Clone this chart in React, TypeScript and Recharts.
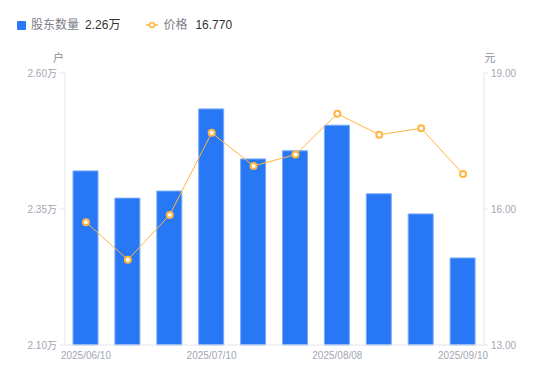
import { Bar, ComposedChart, Line, XAxis, YAxis } from 'recharts'

const dates = [
    '2025/06/10',
    '2025/06/20',
    '2025/06/30',
    '2025/07/10',
    '2025/07/18',
    '2025/07/31',
    '2025/08/08',
    '2025/08/20',
    '2025/08/31',
    '2025/09/10',
]
// 股东数量, 万户
const holders = [2.42, 2.37, 2.383, 2.534, 2.442, 2.457, 2.504, 2.378, 2.341, 2.26]
// 价格, 元
const prices = [15.71, 14.88, 15.87, 17.68, 16.95, 17.2, 18.1, 17.64, 17.78, 16.77]

const holderTicks = [2.1, 2.35, 2.6]
const priceTicks = [13, 16, 19]

const data = dates.map((date, i) => ({ date, holders: holders[i], price: prices[i] }))

const font = '"Liberation Sans", "Noto Sans CJK SC", sans-serif'
const tickStyle = { fill: '#a3a6b2', fontSize: 10, fontFamily: font }
const axisColor = '#e4e5e9'

function Legend() {
    return (
        <div
            style={{
                position: 'absolute',
                left: 17,
                top: 16,
                display: 'flex',
                alignItems: 'center',
                fontFamily: font,
                fontSize: 12,
                lineHeight: '18px',
                whiteSpace: 'nowrap',
            }}
        >
            <span style={{ width: 9, height: 9, background: '#2878f5', borderRadius: 1, marginRight: 5 }} />
            <span style={{ color: '#7b7e88', marginRight: 6 }}>股东数量</span>
            <span style={{ color: '#333333' }}>{holders[holders.length - 1].toFixed(2)}万</span>
            <svg width={12} height={8} style={{ marginLeft: 26, marginRight: 5 }}>
                <line x1={0} y1={4} x2={12} y2={4} stroke="#ffb540" strokeWidth={1.5} />
                <circle cx={6} cy={4} r={2.5} fill="#fff" stroke="#ffb540" strokeWidth={1.5} />
            </svg>
            <span style={{ color: '#7b7e88', marginRight: 8 }}>价格</span>
            <span style={{ color: '#333333' }}>{prices[prices.length - 1].toFixed(3)}</span>
        </div>
    )
}

export default function App() {
    return (
        <div style={{ position: 'absolute', left: 0, top: 0, width: 550, height: 381, background: '#fff' }}>
            <Legend />
            <ComposedChart width={550} height={381} data={data} margin={{ top: 73, right: 0, bottom: 16, left: 0 }}>
                <XAxis
                    dataKey="date"
                    interval={2}
                    tick={tickStyle}
                    tickLine={false}
                    tickSize={0}
                    tickMargin={7}
                    height={20}
                    stroke={axisColor}
                />
                <YAxis
                    yAxisId="left"
                    orientation="left"
                    width={65}
                    domain={[2.1, 2.6]}
                    ticks={holderTicks}
                    tickFormatter={(v: number) => `${v.toFixed(2)}万`}
                    tick={tickStyle}
                    tickSize={5}
                    tickMargin={3}
                    stroke={axisColor}
                    label={{ value: '户', position: 'top', dx: 26, dy: -6, fill: '#8a8d98', fontSize: 11, fontFamily: font }}
                />
                <YAxis
                    yAxisId="right"
                    orientation="right"
                    width={66}
                    domain={[13, 19]}
                    ticks={priceTicks}
                    tickFormatter={(v: number) => v.toFixed(2)}
                    tick={tickStyle}
                    tickSize={4}
                    tickMargin={3}
                    stroke={axisColor}
                    label={{ value: '元', position: 'top', dx: -27, dy: -6, fill: '#8a8d98', fontSize: 11, fontFamily: font }}
                />
                <Bar
                    yAxisId="left"
                    dataKey="holders"
                    barSize={25}
                    fill="#2878f5"
                    stroke="#7aabf8"
                    strokeWidth={1}
                    isAnimationActive={false}
                />
                <Line
                    yAxisId="right"
                    dataKey="price"
                    type="linear"
                    stroke="#ffb540"
                    strokeWidth={1}
                    dot={{ r: 3, fill: '#fff', stroke: '#ffb540', strokeWidth: 2 }}
                    activeDot={false}
                    isAnimationActive={false}
                />
            </ComposedChart>
        </div>
    )
}
